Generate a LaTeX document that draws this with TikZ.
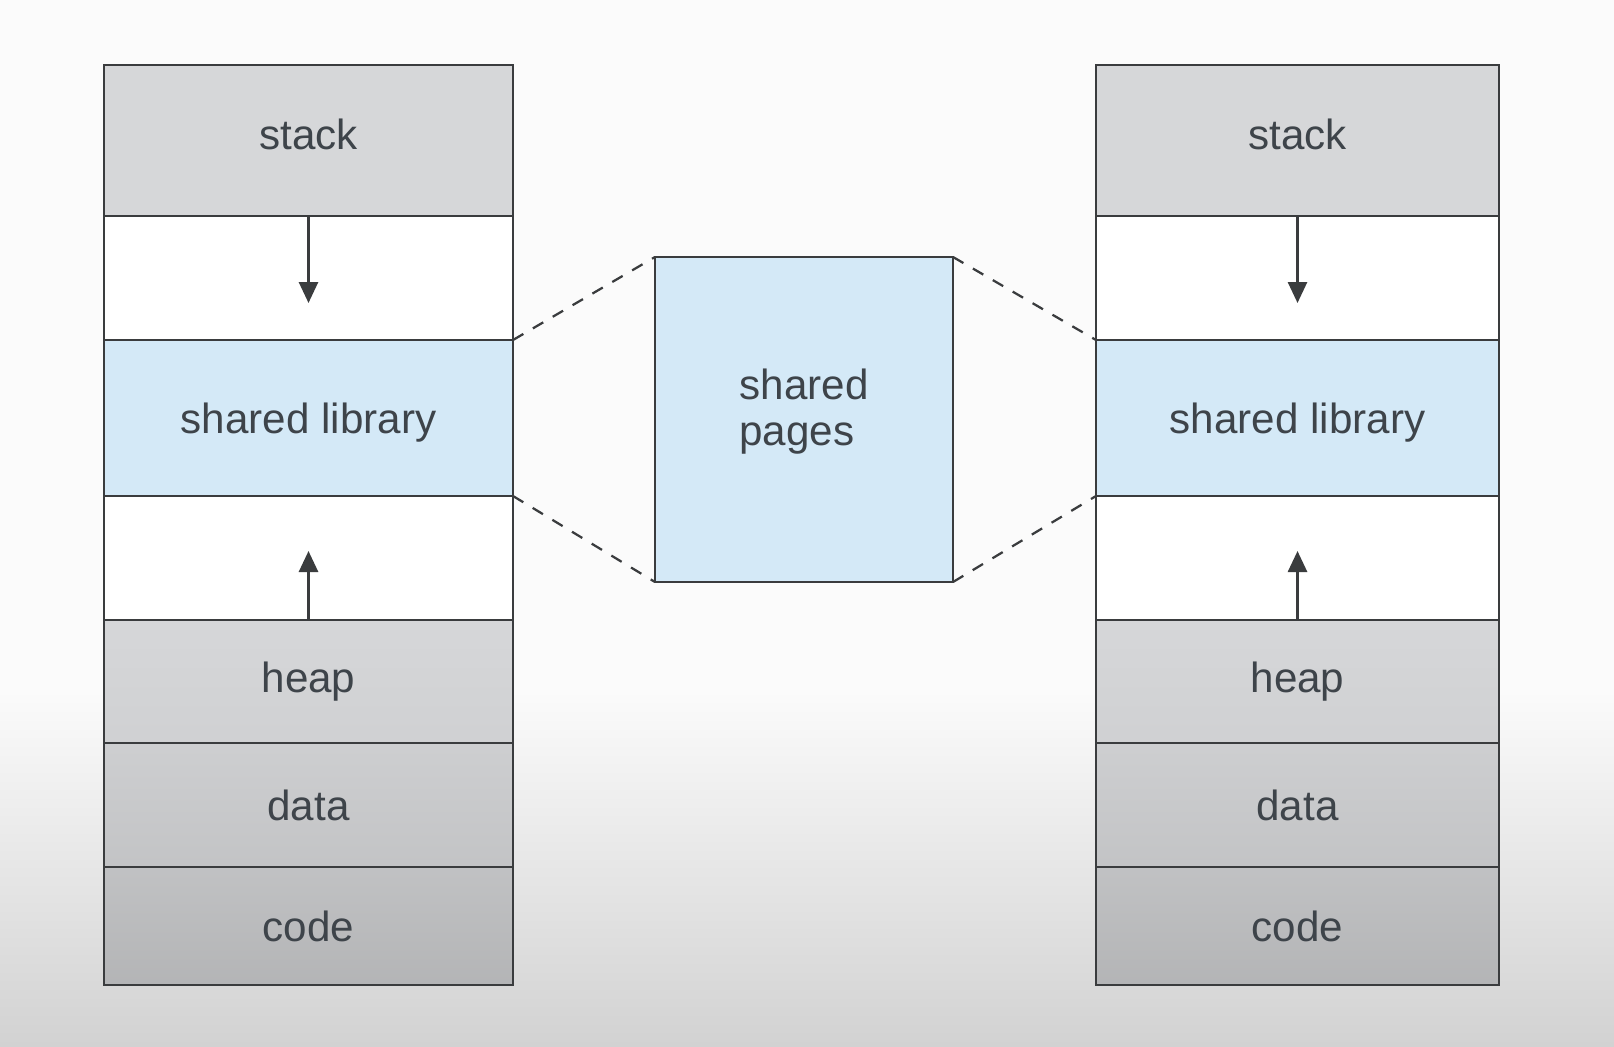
\documentclass[tikz,border=0pt]{standalone}
\usepackage{fontspec}
\setmainfont{Liberation Sans}
\usetikzlibrary{arrows.meta}
\definecolor{bgwhite}{HTML}{FBFBFB}
\definecolor{bggray}{HTML}{D2D2D2}
\definecolor{linegray}{HTML}{3A3C3E}
\definecolor{textgray}{HTML}{3E444A}
\definecolor{stackgray}{HTML}{D6D7D9}
\definecolor{libblue}{HTML}{D4E9F7}

\begin{document}
\begin{tikzpicture}
            \useasboundingbox (0,0) rectangle (32.28,-20.92);
            \fill[bgwhite] (0,0) rectangle (32.28,-13.8);
            \shade[top color=bgwhite, bottom color=bggray] (0,-13.8) rectangle (32.28,-20.92);

            \begin{scope}[every node/.style={rectangle,draw=linegray,line width=0.045cm,
                          inner sep=0pt,outer sep=0pt,text=textgray,
                          font=\fontsize{24}{26}\selectfont}]
                \foreach \s/\x/\w in {L/6.17/8.18,R/25.95/8.06} {
                    \begin{scope}[every node/.append style={minimum width=\w cm}]
                    \node[fill=stackgray,minimum height=3.02cm,text depth=0.24cm] (stack\s) at (\x,-2.81) {stack};
                    \node[fill=white,minimum height=2.48cm] (free\s) at (\x,-5.56) {};
                    \node[fill=libblue,minimum height=3.12cm,text height=0.81cm,text depth=0.2cm] (lib\s) at (\x,-8.36) {shared library};
                    \node[fill=white,minimum height=2.48cm] (gap\s) at (\x,-11.16) {};
                    \node[top color=stackgray,bottom color=stackgray!97!black,minimum height=2.46cm] (heap\s) at (\x,-13.63) {heap};
                    \node[top color=stackgray!96!black,bottom color=stackgray!91!black,minimum height=2.48cm] (data\s) at (\x,-16.10) {data};
                    \node[top color=stackgray!90!black,bottom color=stackgray!84!black,minimum height=2.36cm] (code\s) at (\x,-18.52) {code};
                    \end{scope}
                    \coordinate (down\s) at (\x,-6.06);
                    \coordinate (up\s) at (\x,-11.02);
                }
                \node[fill=libblue,minimum width=5.96cm,minimum height=6.5cm,align=left,text depth=0.5cm] (pages) at (16.08,-8.39) {shared\\pages};
            \end{scope}

            \begin{scope}[>={Triangle[length=0.42cm,width=0.38cm]},
                          every edge/.style={draw=linegray,line width=0.055cm}]
                \path [->] (stackL) edge node {} (downL);
                \path [->] (heapL) edge node {} (upL);
                \path [->] (stackR) edge node {} (downR);
                \path [->] (heapR) edge node {} (upR);
            \end{scope}

            \begin{scope}[every edge/.style={draw=linegray,line width=0.045cm,dash pattern=on 0.24cm off 0.22cm}]
                \path [-] (libL.north east) edge (pages.north west);
                \path [-] (libL.south east) edge (pages.south west);
                \path [-] (pages.north east) edge (libR.north west);
                \path [-] (pages.south east) edge (libR.south west);
            \end{scope}
        \end{tikzpicture}
\end{document}
